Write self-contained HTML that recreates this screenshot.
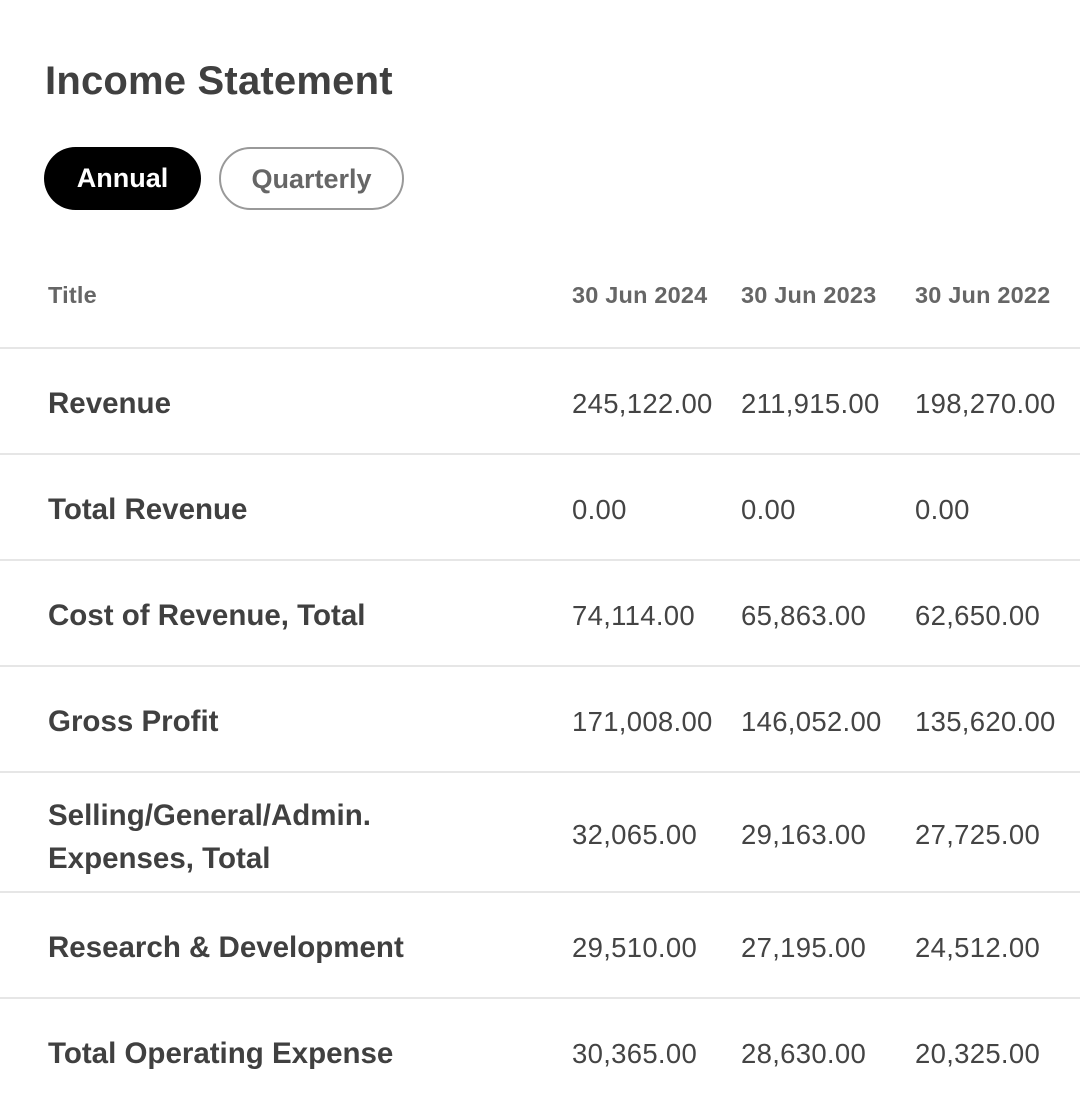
<!DOCTYPE html>
<html><head><meta charset="utf-8"><style>
body{margin:0;width:1080px;height:1096px;background:#fff;position:relative;overflow:hidden;font-family:"Liberation Sans",sans-serif;color:#404040}
.a{position:absolute;white-space:nowrap}
h1{position:absolute;left:45px;top:57px;margin:0;font-size:40px;font-weight:bold;line-height:48px;color:#404040;letter-spacing:0.2px}
.btn{position:absolute;top:147px;height:63px;border-radius:32px;box-sizing:border-box;font-weight:bold;font-size:27px;line-height:63px;text-align:center}
.hd{font-size:23.5px;font-weight:bold;color:#666;line-height:30px;letter-spacing:0.2px}
.ln{position:absolute;left:0;width:1080px;height:2px;background:#e6e6e6}
.lb{font-size:29.5px;font-weight:bold;line-height:40px;left:48px}
.v{font-size:27.5px;line-height:40px;color:#444;letter-spacing:0.3px}
</style></head><body>
<h1>Income Statement</h1>
<div class="btn" style="left:44px;width:157px;background:#000;color:#fff">Annual</div>
<div class="btn" style="left:219px;width:185px;border:2px solid #999;color:#666;line-height:61px">Quarterly</div>
<div class="a hd" style="left:48px;top:280px">Title</div>
<div class="a hd" style="left:572px;top:280px">30 Jun 2024</div>
<div class="a hd" style="left:741px;top:280px">30 Jun 2023</div>
<div class="a hd" style="left:915px;top:280px">30 Jun 2022</div>
<div class="ln" style="top:347px"></div>
<div class="ln" style="top:453px"></div>
<div class="ln" style="top:559px"></div>
<div class="ln" style="top:665px"></div>
<div class="ln" style="top:771px"></div>
<div class="ln" style="top:891px"></div>
<div class="ln" style="top:997px"></div>

<div class="a lb" style="top:384px">Revenue</div>
<div class="a v" style="left:572px;top:384px">245,122.00</div>
<div class="a v" style="left:741px;top:384px">211,915.00</div>
<div class="a v" style="left:915px;top:384px">198,270.00</div>

<div class="a lb" style="top:490px">Total Revenue</div>
<div class="a v" style="left:572px;top:490px">0.00</div>
<div class="a v" style="left:741px;top:490px">0.00</div>
<div class="a v" style="left:915px;top:490px">0.00</div>

<div class="a lb" style="top:596px">Cost of Revenue, Total</div>
<div class="a v" style="left:572px;top:596px">74,114.00</div>
<div class="a v" style="left:741px;top:596px">65,863.00</div>
<div class="a v" style="left:915px;top:596px">62,650.00</div>

<div class="a lb" style="top:702px">Gross Profit</div>
<div class="a v" style="left:572px;top:702px">171,008.00</div>
<div class="a v" style="left:741px;top:702px">146,052.00</div>
<div class="a v" style="left:915px;top:702px">135,620.00</div>

<div class="a lb" style="top:794px;line-height:43px">Selling/General/Admin.<br>Expenses, Total</div>
<div class="a v" style="left:572px;top:815px">32,065.00</div>
<div class="a v" style="left:741px;top:815px">29,163.00</div>
<div class="a v" style="left:915px;top:815px">27,725.00</div>

<div class="a lb" style="top:928px">Research &amp; Development</div>
<div class="a v" style="left:572px;top:928px">29,510.00</div>
<div class="a v" style="left:741px;top:928px">27,195.00</div>
<div class="a v" style="left:915px;top:928px">24,512.00</div>

<div class="a lb" style="top:1034px">Total Operating Expense</div>
<div class="a v" style="left:572px;top:1034px">30,365.00</div>
<div class="a v" style="left:741px;top:1034px">28,630.00</div>
<div class="a v" style="left:915px;top:1034px">20,325.00</div>
</body></html>
